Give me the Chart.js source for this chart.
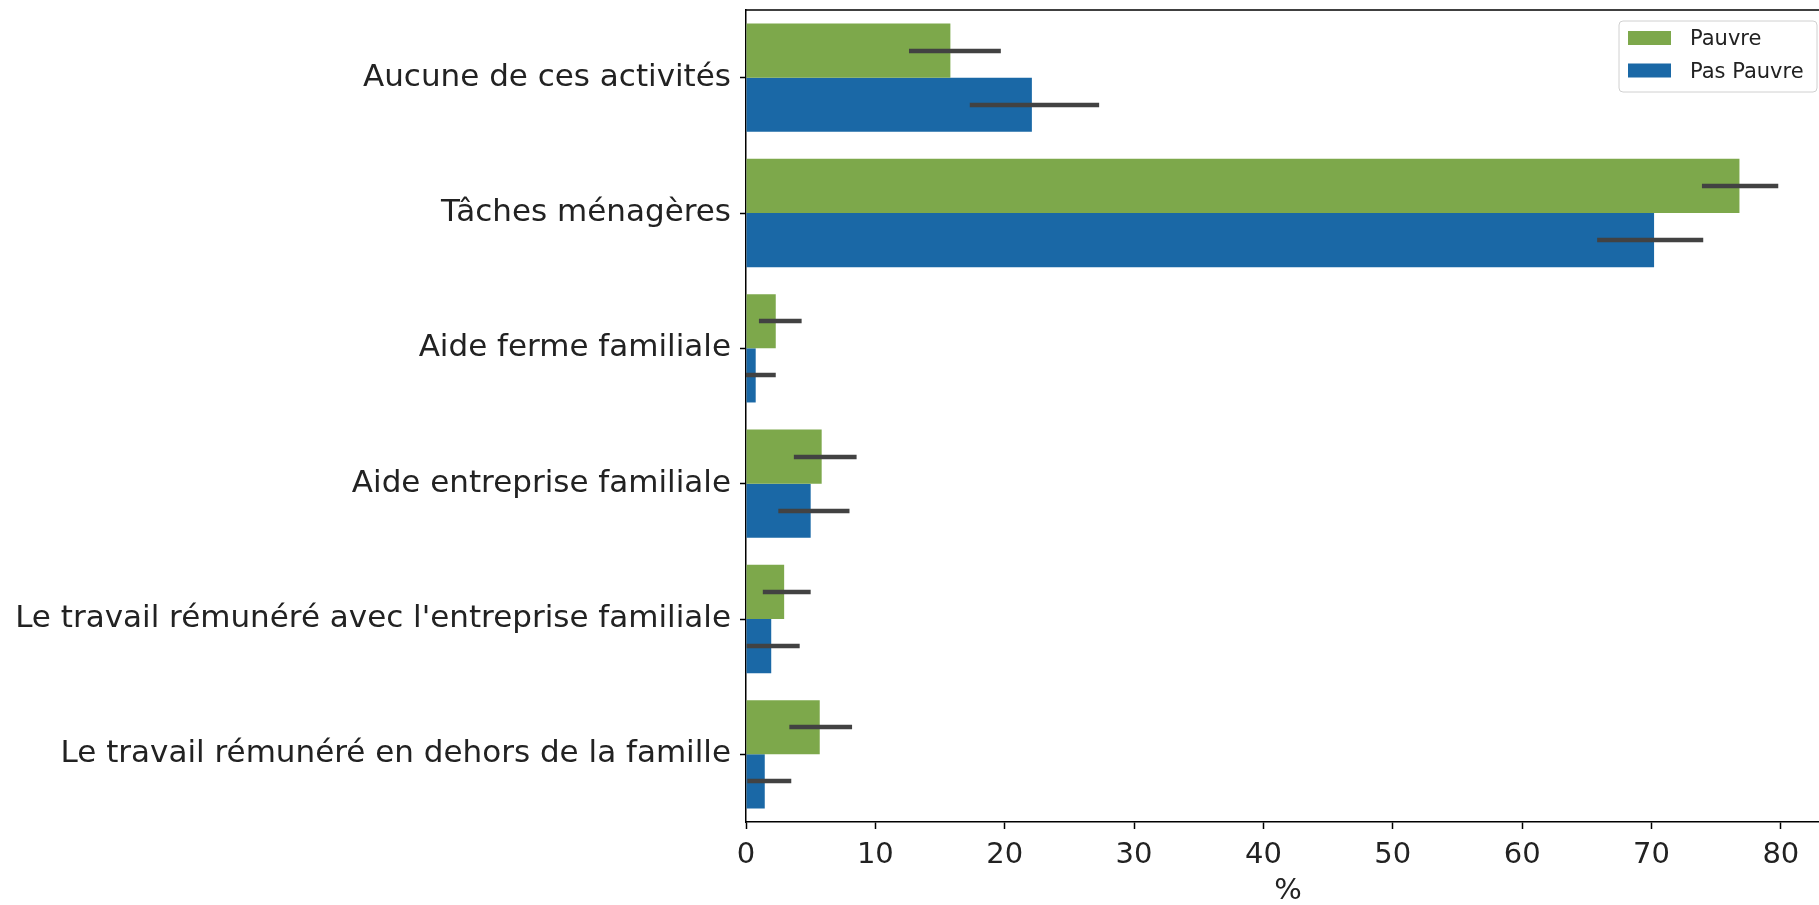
<!DOCTYPE html>
<html lang="fr">
<head>
<meta charset="utf-8">
<title>Activités des enfants selon la pauvreté</title>
<script src="https://cdn.jsdelivr.net/npm/chart.js@4.4.1/dist/chart.umd.min.js"></script>
<style>
  html, body { margin: 0; padding: 0; background: #ffffff; overflow: hidden; }
  #wrap { position: absolute; left: 0; top: 0; width: 1840px; height: 905px; }
</style>
</head>
<body>
<div id="wrap"><canvas id="chart" width="1840" height="905"></canvas></div>
<script>
// Activity categories (y axis, top to bottom)
const categories = [
  "Aucune de ces activités",
  "Tâches ménagères",
  "Aide ferme familiale",
  "Aide entreprise familiale",
  "Le travail rémunéré avec l'entreprise familiale",
  "Le travail rémunéré en dehors de la famille"
];

// Share of children (%) and confidence interval bounds
const pauvre      = [15.8, 76.8, 2.3, 5.85, 2.95, 5.7];
const pauvreLow   = [12.6, 73.9, 1.0, 3.7, 1.3, 3.35];
const pauvreHigh  = [19.7, 79.8, 4.3, 8.55, 5.0, 8.2];

const pasPauvre     = [22.1, 70.2, 0.75, 5.0, 1.95, 1.45];
const pasPauvreLow  = [17.3, 65.8, 0.0, 2.5, 0.05, 0.1];
const pasPauvreHigh = [27.3, 74.0, 2.3, 8.0, 4.15, 3.5];

const seriesLabels = ["Pauvre", "Pas Pauvre"];
const xTickStep = 10;
const xMax = 83.8;

const GREEN = "#7da84b";
const BLUE = "#1a68a6";
const FONT = "'DejaVu Sans', sans-serif";

const intervals = [
  { low: pauvreLow, high: pauvreHigh },
  { low: pasPauvreLow, high: pasPauvreHigh }
];

// Confidence interval lines drawn over each bar
const errorBars = {
  id: "errorBars",
  afterDatasetsDraw(chart) {
    const ctx = chart.ctx;
    const xs = chart.scales.x;
    ctx.save();
    ctx.strokeStyle = "#424242";
    ctx.lineWidth = 4.5;
    ctx.lineCap = "butt";
    intervals.forEach((iv, d) => {
      const meta = chart.getDatasetMeta(d);
      meta.data.forEach((bar, i) => {
        const y = Math.round(bar.y);
        ctx.beginPath();
        ctx.moveTo(xs.getPixelForValue(iv.low[i]), y);
        ctx.lineTo(xs.getPixelForValue(iv.high[i]), y);
        ctx.stroke();
      });
    });
    ctx.restore();
  }
};

// Top spine and legend box in the upper right corner of the plot
const frameAndLegend = {
  id: "frameAndLegend",
  afterDraw(chart) {
    const ctx = chart.ctx;
    const a = chart.chartArea;
    ctx.save();
    ctx.strokeStyle = "#000000";
    ctx.lineWidth = 1.5;
    ctx.beginPath();
    ctx.moveTo(a.left - 0.75, a.top);
    ctx.lineTo(a.right, a.top);
    ctx.stroke();

    const bx = 1619, by = 21, bw = 198, bh = 71, r = 4;
    ctx.fillStyle = "rgba(255,255,255,0.85)";
    ctx.strokeStyle = "#d0d0d0";
    ctx.lineWidth = 1;
    ctx.beginPath();
    ctx.moveTo(bx + r, by);
    ctx.lineTo(bx + bw - r, by);
    ctx.quadraticCurveTo(bx + bw, by, bx + bw, by + r);
    ctx.lineTo(bx + bw, by + bh - r);
    ctx.quadraticCurveTo(bx + bw, by + bh, bx + bw - r, by + bh);
    ctx.lineTo(bx + r, by + bh);
    ctx.quadraticCurveTo(bx, by + bh, bx, by + bh - r);
    ctx.lineTo(bx, by + r);
    ctx.quadraticCurveTo(bx, by, bx + r, by);
    ctx.closePath();
    ctx.fill();
    ctx.stroke();

    ctx.font = "21px " + FONT;
    ctx.textBaseline = "middle";
    ctx.textAlign = "left";
    chart.data.datasets.forEach((ds, i) => {
      const cy = by + 17 + i * 32.5;
      ctx.fillStyle = ds.backgroundColor;
      ctx.fillRect(bx + 9, cy - 7, 43, 14);
      ctx.fillStyle = "#222222";
      ctx.fillText(ds.label, bx + 71, cy + 2);
    });
    ctx.restore();
  }
};

new Chart(document.getElementById("chart"), {
  type: "bar",
  data: {
    labels: categories,
    datasets: [
      { label: seriesLabels[0], data: pauvre, backgroundColor: GREEN, borderWidth: 0 },
      { label: seriesLabels[1], data: pasPauvre, backgroundColor: BLUE, borderWidth: 0 }
    ]
  },
  options: {
    indexAxis: "y",
    responsive: false,
    animation: false,
    devicePixelRatio: 1,
    categoryPercentage: 0.8,
    barPercentage: 1.0,
    layout: { padding: { top: 10, right: 10, left: 0, bottom: 0 } },
    plugins: {
      legend: { display: false },
      tooltip: { enabled: false }
    },
    scales: {
      x: {
        type: "linear",
        position: "bottom",
        min: 0,
        max: xMax,
        afterFit(scale) { scale.height = 83; },
        ticks: {
          stepSize: xTickStep,
          includeBounds: false,
          color: "#222222",
          padding: 9,
          font: { family: FONT, size: 29 }
        },
        grid: {
          display: true,
          drawOnChartArea: false,
          drawTicks: true,
          tickLength: 7,
          tickWidth: 1.5,
          tickColor: "#000000"
        },
        border: { display: true, color: "#000000", width: 1.5 },
        title: {
          display: true,
          text: "%",
          color: "#222222",
          padding: 0,
          font: { family: FONT, size: 29, lineHeight: 0.9 }
        }
      },
      y: {
        type: "category",
        position: "left",
        afterFit(scale) {
          scale.width = 746;
          scale.paddingTop = 0;
          scale.paddingBottom = 0;
        },
        ticks: {
          color: "#222222",
          padding: 9,
          font: { family: FONT, size: 31 }
        },
        grid: {
          display: true,
          offset: false,
          drawOnChartArea: false,
          drawTicks: true,
          tickLength: 6,
          tickWidth: 1.5,
          tickColor: "#000000"
        },
        border: { display: true, color: "#000000", width: 1.5 }
      }
    }
  },
  plugins: [errorBars, frameAndLegend]
});
</script>
</body>
</html>
